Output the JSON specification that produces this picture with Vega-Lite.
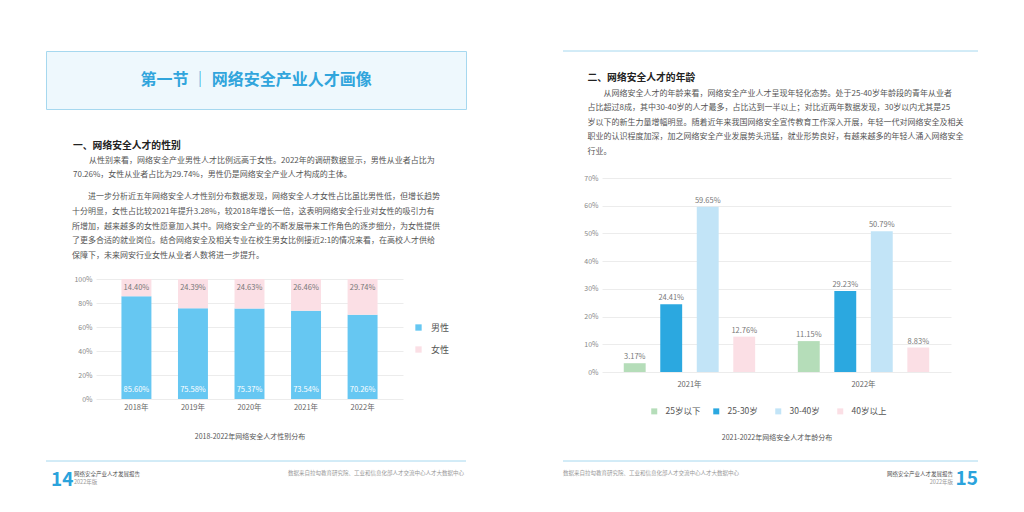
{
  "$schema": "https://vega.github.io/schema/vega-lite/v6.json",
  "background": "white",
  "padding": {"left": 45, "top": 50, "right": 0, "bottom": 0},
  "config": {
    "font": "Noto Sans CJK SC",
    "view": {"stroke": null},
    "axis": {"labelColor": "#888", "labelFontSize": 7, "gridColor": "#ececec", "domain": false, "ticks": false, "titleFontSize": 7, "titleColor": "#555", "titleFontWeight": "normal", "labelOverlap": false},
    "title": {"font": "Noto Sans CJK SC", "subtitleFont": "Noto Sans CJK SC"}
  },
  "resolve": {"scale": {"color": "independent", "x": "independent", "y": "independent"}, "legend": {"color": "independent"}},
  "spacing": 95,
  "hconcat": [
    {
      "spacing": 13,
      "center": false,
      "resolve": {"scale": {"color": "independent", "x": "independent", "y": "independent"}, "legend": {"color": "independent"}},
      "vconcat": [
        {
          "width": 420,
          "height": 58,
          "view": {"fill": "#eef8fd", "stroke": "#a6d8ef"},
          "data": {"values": [{"t": "第一节 ｜ 网络安全产业人才画像"}]},
          "mark": {"type": "text", "fontSize": 16, "fontWeight": "bold", "color": "#31a5dc", "baseline": "middle"},
          "encoding": {"text": {"field": "t"}},
          "title": {
            "text": "一、网络安全人才的性别",
            "subtitle": [
              "\u200b\u3000\u3000从性别来看，网络安全产业男性人才比例远高于女性。2022年的调研数据显示，男性从业者占比为",
              "70.26%，女性从业者占比为29.74%，男性仍是网络安全产业人才构成的主体。"
            ],
            "orient": "bottom",
            "anchor": "start",
            "dx": 27,
            "offset": 32,
            "fontSize": 9.8,
            "fontWeight": "bold",
            "color": "#222",
            "subtitleFontSize": 8,
            "subtitleColor": "#555",
            "subtitleLineHeight": 14.3,
            "subtitlePadding": 6
          }
        },
        {
          "spacing": 0,
          "resolve": {"scale": {"color": "independent"}, "legend": {"color": "independent"}},
          "hconcat": [
            {
              "width": 26,
              "height": 1,
              "data": {"values": [{"t": ""}]},
              "mark": {"type": "text"},
              "encoding": {"text": {"field": "t"}}
            },
            {
              "width": 307,
              "height": 120,
              "title": {
                "text": [
                  "\u200b\u3000\u3000进一步分析近五年网络安全人才性别分布数据发现，网络安全人才女性占比虽比男性低，但增长趋势",
                  "十分明显，女性占比较2021年提升3.28%，较2018年增长一倍，这表明网络安全行业对女性的吸引力有",
                  "所增加，越来越多的女性愿意加入其中。网络安全产业的不断发展带来工作角色的逐步细分，为女性提供",
                  "了更多合适的就业岗位。结合网络安全及相关专业在校生男女比例接近2:1的情况来看，在高校人才供给",
                  "保障下，未来网安行业女性从业者人数将进一步提升。"
                ],
                "anchor": "start",
                "frame": "group",
                "dx": -24,
                "fontSize": 8,
                "fontWeight": "normal",
                "color": "#555",
                "lineHeight": 14.75,
                "offset": 15
              },
              "data": {"values": [
                {"year": "2018年", "gender": "男性", "value": 0.8560},
                {"year": "2018年", "gender": "女性", "value": 0.1440},
                {"year": "2019年", "gender": "男性", "value": 0.7558},
                {"year": "2019年", "gender": "女性", "value": 0.2439},
                {"year": "2020年", "gender": "男性", "value": 0.7537},
                {"year": "2020年", "gender": "女性", "value": 0.2463},
                {"year": "2021年", "gender": "男性", "value": 0.7354},
                {"year": "2021年", "gender": "女性", "value": 0.2646},
                {"year": "2022年", "gender": "男性", "value": 0.7026},
                {"year": "2022年", "gender": "女性", "value": 0.2974}
              ]},
              "encoding": {
                "x": {"field": "year", "type": "nominal", "scale": {"paddingInner": 0.47, "paddingOuter": 0.45},
                      "axis": {"title": "2018-2022年网络安全人才性别分布", "labelAngle": 0, "labelColor": "#666", "labelFontSize": 7.5, "labelPadding": 4, "titlePadding": 22}}
              },
              "layer": [
                {
                  "mark": {"type": "bar"},
                  "encoding": {
                    "y": {"field": "value", "type": "quantitative", "stack": "zero", "scale": {"domain": [0, 1]},
                          "axis": {"format": ".0%", "values": [0, 0.2, 0.4, 0.6, 0.8, 1], "title": null, "labelPadding": 4}},
                    "color": {"field": "gender", "type": "nominal", "sort": ["男性", "女性"],
                              "scale": {"domain": ["男性", "女性"], "range": ["#66c7f2", "#fbdfe5"]},
                              "legend": {"title": null, "orient": "none", "legendX": 318, "legendY": 44, "direction": "vertical", "symbolType": "square", "symbolSize": 40, "labelFontSize": 9, "labelColor": "#555", "rowPadding": 12, "labelOffset": 8}}
                  }
                },
                {
                  "transform": [{"filter": "datum.gender === '女性'"}],
                  "mark": {"type": "text", "dy": 9, "fontSize": 7.5, "color": "#777"},
                  "encoding": {
                    "y": {"datum": 1, "type": "quantitative", "axis": {"format": ".0%", "values": [0, 0.2, 0.4, 0.6, 0.8, 1], "title": null, "labelPadding": 4}},
                    "text": {"field": "value", "type": "quantitative", "format": ".2%"}
                  }
                },
                {
                  "transform": [{"filter": "datum.gender === '男性'"}],
                  "mark": {"type": "text", "dy": -9, "fontSize": 7.5, "color": "#ffffff"},
                  "encoding": {
                    "y": {"datum": 0, "type": "quantitative", "axis": {"format": ".0%", "values": [0, 0.2, 0.4, 0.6, 0.8, 1], "title": null, "labelPadding": 4}},
                    "text": {"field": "value", "type": "quantitative", "format": ".2%"}
                  }
                }
              ]
            }
          ]
        },
        {
          "width": 420,
          "height": 40,
          "data": {"values": [
            {"role": "num", "slot": "L", "t": "14"},
            {"role": "name", "slot": "L", "t": "网络安全产业人才发展报告"},
            {"role": "year", "slot": "L", "t": "2022年版"},
            {"role": "src", "slot": "R", "t": "数据来自拉勾教育研究院、工业和信息化部人才交流中心人才大数据中心"},
            {"role": "line", "slot": "L", "t": ""}
          ]},
          "encoding": {
            "x": {"field": "slot", "type": "ordinal", "scale": {"type": "point", "domain": ["L", "R"], "padding": 0}, "axis": null}
          },
          "layer": [
            {
              "transform": [{"filter": "datum.role === 'line'"}],
              "mark": {"type": "rule", "color": "#a6d8ef", "yOffset": 8},
              "encoding": {"x": {"value": 0}, "x2": {"value": 420}, "y": {"datum": 1, "type": "quantitative", "scale": {"domain": [0, 1]}, "axis": null}}
            },
            {
              "transform": [{"filter": "datum.role === 'num'"}],
              "mark": {"type": "text", "align": "left", "dx": 5, "dy": 7, "fontSize": 19, "fontWeight": "bold", "color": "#2ba3dc"},
              "encoding": {"text": {"field": "t"}}
            },
            {
              "transform": [{"filter": "datum.role === 'name'"}],
              "mark": {"type": "text", "align": "left", "dx": 28, "dy": 1, "fontSize": 5.5, "color": "#555"},
              "encoding": {"text": {"field": "t"}}
            },
            {
              "transform": [{"filter": "datum.role === 'year'"}],
              "mark": {"type": "text", "align": "left", "dx": 28, "dy": 9, "fontSize": 5.5, "color": "#999"},
              "encoding": {"text": {"field": "t"}}
            },
            {
              "transform": [{"filter": "datum.role === 'src'"}],
              "mark": {"type": "text", "align": "right", "dx": -2, "dy": 0, "fontSize": 5.5, "color": "#999"},
              "encoding": {"text": {"field": "t"}}
            }
          ]
        }
      ]
    },
    {
      "spacing": 18,
      "center": true,
      "resolve": {"scale": {"color": "independent", "x": "independent", "y": "independent"}, "legend": {"color": "independent"}},
      "vconcat": [
        {
          "width": 427,
          "height": 1,
          "data": {"values": [{"t": ""}]},
          "mark": {"type": "rule", "color": "#a6d8ef"},
          "encoding": {"x": {"value": 0}, "x2": {"value": 415}, "y": {"datum": 1, "type": "quantitative", "scale": {"domain": [0, 1]}, "axis": null}},
          "title": {
            "text": "二、网络安全人才的年龄",
            "subtitle": [
              "\u200b\u3000\u3000从网络安全人才的年龄来看，网络安全产业人才呈现年轻化态势。处于25-40岁年龄段的青年从业者",
              "占比超过8成，其中30-40岁的人才最多，占比达到一半以上；对比近两年数据发现，30岁以内尤其是25",
              "岁以下的新生力量增幅明显。随着近年来我国网络安全宣传教育工作深入开展，年轻一代对网络安全及相关",
              "职业的认识程度加深，加之网络安全产业发展势头迅猛，就业形势良好，有越来越多的年轻人涌入网络安全",
              "行业。"
            ],
            "orient": "bottom",
            "anchor": "start",
            "dx": 25,
            "offset": 21,
            "fontSize": 9.8,
            "fontWeight": "bold",
            "color": "#222",
            "subtitleFontSize": 8,
            "subtitleColor": "#555",
            "subtitleLineHeight": 14.5,
            "subtitlePadding": 7
          }
        },
        {
          "width": 349,
          "height": 194,
          "data": {"values": [
            {"year": "2021年", "age": "25岁以下", "value": 0.0317},
            {"year": "2021年", "age": "25-30岁", "value": 0.2441},
            {"year": "2021年", "age": "30-40岁", "value": 0.5965},
            {"year": "2021年", "age": "40岁以上", "value": 0.1276},
            {"year": "2022年", "age": "25岁以下", "value": 0.1115},
            {"year": "2022年", "age": "25-30岁", "value": 0.2923},
            {"year": "2022年", "age": "30-40岁", "value": 0.5079},
            {"year": "2022年", "age": "40岁以上", "value": 0.0883}
          ]},
          "encoding": {
            "x": {"field": "year", "type": "nominal", "scale": {"paddingInner": 0.245, "paddingOuter": 0.125},
                  "axis": {"title": "2021-2022年网络安全人才年龄分布", "labelAngle": 0, "labelColor": "#666", "labelFontSize": 7.5, "labelPadding": 8, "titlePadding": 46}},
            "xOffset": {"field": "age", "type": "nominal", "sort": ["25岁以下", "25-30岁", "30-40岁", "40岁以上"], "scale": {"paddingInner": 0.4, "paddingOuter": 0}},
            "y": {"field": "value", "type": "quantitative", "scale": {"domain": [0, 0.7]},
                  "axis": {"format": ".0%", "values": [0, 0.1, 0.2, 0.3, 0.4, 0.5, 0.6, 0.7], "title": null, "labelPadding": 4}}
          },
          "layer": [
            {
              "mark": {"type": "bar"},
              "encoding": {
                "color": {"field": "age", "type": "nominal", "sort": ["25岁以下", "25-30岁", "30-40岁", "40岁以上"],
                          "scale": {"domain": ["25岁以下", "25-30岁", "30-40岁", "40岁以上"], "range": ["#b5ddb9", "#2ba8e0", "#c2e4f7", "#fbdfe5"]},
                          "legend": {"title": null, "orient": "none", "legendX": 48, "legendY": 229, "direction": "horizontal", "columns": 4, "gridAlign": "all", "symbolType": "square", "symbolSize": 36, "labelFontSize": 8.5, "labelColor": "#555", "columnPadding": 11, "labelOffset": 7}}
              }
            },
            {
              "mark": {"type": "text", "dy": -6, "fontSize": 7.5, "color": "#777"},
              "encoding": {
                "text": {"field": "value", "type": "quantitative", "format": ".2%"}
              }
            }
          ]
        },
        {
          "width": 427,
          "height": 30,
          "data": {"values": [
            {"role": "num", "slot": "R", "t": "15"},
            {"role": "name", "slot": "R", "t": "网络安全产业人才发展报告"},
            {"role": "year", "slot": "R", "t": "2022年版"},
            {"role": "src", "slot": "L", "t": "数据来自拉勾教育研究院、工业和信息化部人才交流中心人才大数据中心"},
            {"role": "line", "slot": "L", "t": ""}
          ]},
          "encoding": {
            "x": {"field": "slot", "type": "ordinal", "scale": {"type": "point", "domain": ["L", "R"], "padding": 0}, "axis": null}
          },
          "layer": [
            {
              "transform": [{"filter": "datum.role === 'line'"}],
              "mark": {"type": "rule", "color": "#a6d8ef", "yOffset": 2},
              "encoding": {"x": {"value": 0}, "x2": {"value": 415}, "y": {"datum": 1, "type": "quantitative", "scale": {"domain": [0, 1]}, "axis": null}}
            },
            {
              "transform": [{"filter": "datum.role === 'num'"}],
              "mark": {"type": "text", "align": "right", "dx": -12, "dy": 5, "fontSize": 19, "fontWeight": "bold", "color": "#2ba3dc"},
              "encoding": {"text": {"field": "t"}}
            },
            {
              "transform": [{"filter": "datum.role === 'name'"}],
              "mark": {"type": "text", "align": "right", "dx": -37, "dy": 0, "fontSize": 5.5, "color": "#555"},
              "encoding": {"text": {"field": "t"}}
            },
            {
              "transform": [{"filter": "datum.role === 'year'"}],
              "mark": {"type": "text", "align": "right", "dx": -37, "dy": 8, "fontSize": 5.5, "color": "#999"},
              "encoding": {"text": {"field": "t"}}
            },
            {
              "transform": [{"filter": "datum.role === 'src'"}],
              "mark": {"type": "text", "align": "left", "dx": 0, "dy": -1, "fontSize": 5.5, "color": "#999"},
              "encoding": {"text": {"field": "t"}}
            }
          ]
        }
      ]
    }
  ]
}
